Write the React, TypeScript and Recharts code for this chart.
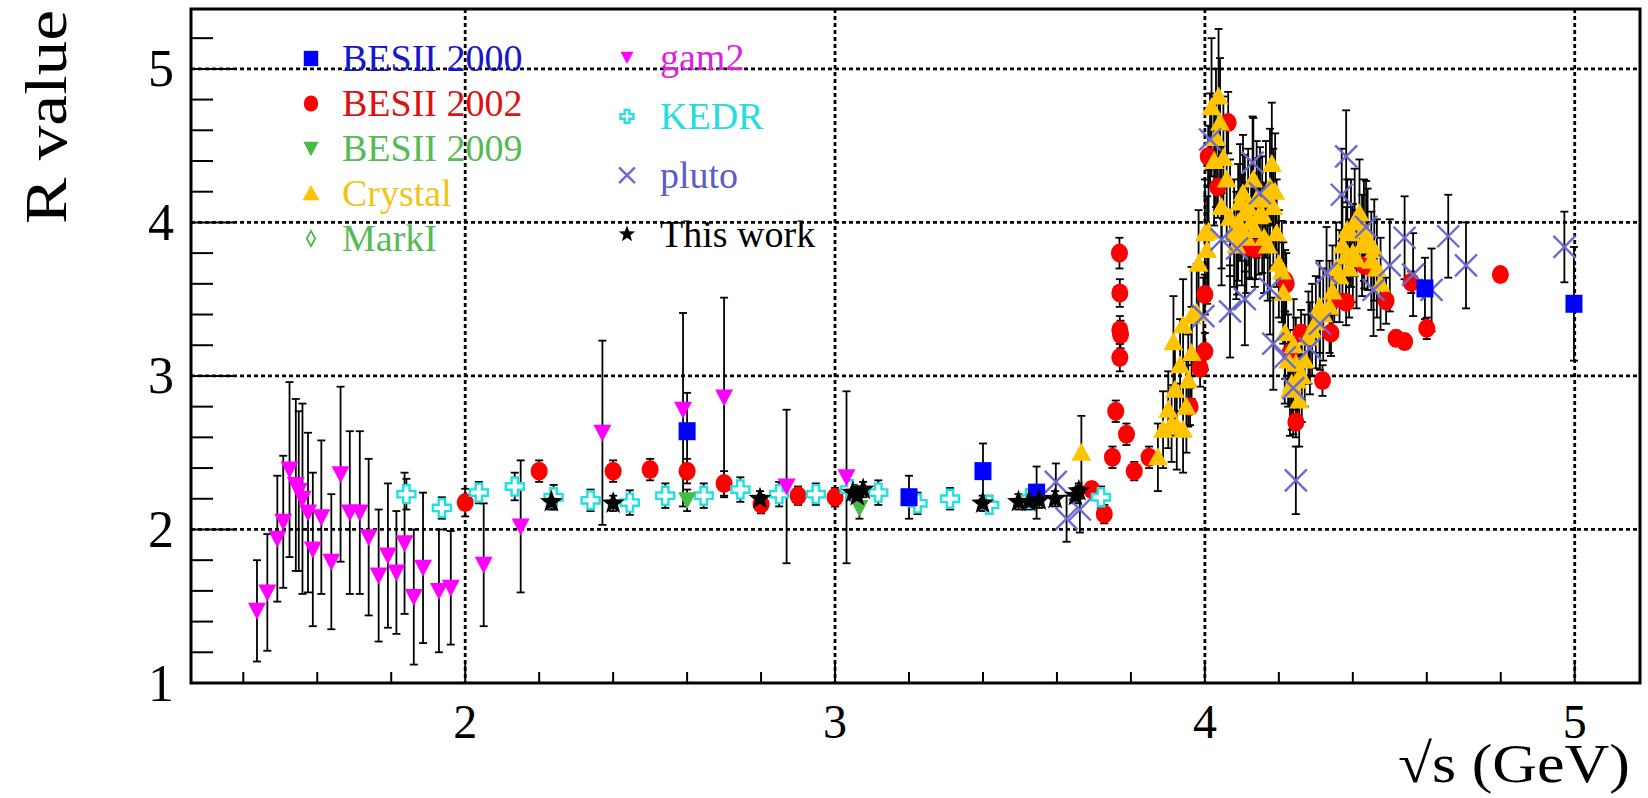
import React from "react";
import { ScatterChart, Scatter, XAxis, YAxis, ErrorBar, CartesianGrid, ReferenceArea } from "recharts";

const X_DOMAIN: [number, number] = [1.2586, 5.1765];
const Y_DOMAIN: [number, number] = [1, 5.39];

const xTicks = [1.4, 1.6, 1.8, 2, 2.2, 2.4, 2.6, 2.8, 3, 3.2, 3.4, 3.6, 3.8, 4, 4.2, 4.4, 4.6, 4.8, 5];
const yTicks = [1, 1.2, 1.4, 1.6, 1.8, 2, 2.2, 2.4, 2.6, 2.8, 3, 3.2, 3.4, 3.6, 3.8, 4, 4.2, 4.4, 4.6, 4.8, 5, 5.2];
const gridValues = [2, 3, 4, 5];

// [sqrt(s), R, error]
const besii2000 = [
  [2.6, 2.64, 0.25], [3.2, 2.21, 0.14], [3.4, 2.38, 0.18], [3.545, 2.24, 0.17],
  [4.595, 3.57, 0.2], [4.998, 3.47, 0.37],
];

const besii2002 = [
  [2.0, 2.175, 0.09], [2.2, 2.38, 0.07], [2.4, 2.38, 0.07], [2.5, 2.39, 0.07],
  [2.6, 2.38, 0.08], [2.7, 2.3, 0.08], [2.8, 2.165, 0.06], [2.9, 2.22, 0.06],
  [3.0, 2.21, 0.06], [3.694, 2.26, 0.05], [3.728, 2.1, 0.06], [3.75, 2.47, 0.07],
  [3.759, 2.77, 0.07], [3.769, 3.8, 0.1], [3.77, 3.54, 0.09], [3.77, 3.3, 0.09],
  [3.772, 3.27, 0.09], [3.77, 3.12, 0.09], [3.788, 2.62, 0.07], [3.809, 2.38, 0.06],
  [3.849, 2.47, 0.07], [3.96, 2.8, 0.12], [3.987, 3.05, 0.12], [4.0, 3.16, 0.12],
  [4.0, 3.53, 0.13], [4.009, 4.43, 0.2], [4.035, 4.23, 0.2], [4.063, 4.65, 0.2],
  [4.12, 3.84, 0.2], [4.138, 3.83, 0.2], [4.217, 3.62, 0.2], [4.22, 3.6, 0.2],
  [4.23, 3.15, 0.15], [4.246, 2.7, 0.1], [4.26, 3.28, 0.15], [4.318, 2.97, 0.1],
  [4.341, 3.28, 0.15], [4.35, 3.5, 0.15], [4.382, 3.48, 0.15], [4.431, 3.72, 0.15],
  [4.45, 3.71, 0.15], [4.49, 3.49, 0.15], [4.517, 3.245, 0.05], [4.54, 3.224, 0.05],
  [4.558, 3.61, 0.07], [4.6, 3.31, 0.07], [4.799, 3.66, 0.04],
];

const besii2009 = [
  [2.6, 2.19, 0.07], [3.066, 2.14, 0.07],
];

const crystal = [
  [3.666, 2.5, 0.24], [3.873, 2.47, 0.22], [3.887, 2.65, 0.25], [3.901, 2.78, 0.25],
  [3.91, 2.69, 0.25], [3.915, 3.22, 0.3], [3.919, 2.91, 0.3], [3.924, 2.67, 0.28],
  [3.933, 3.07, 0.3], [3.941, 2.65, 0.28], [3.941, 3.33, 0.3], [3.95, 2.8, 0.3],
  [3.955, 2.97, 0.3], [3.964, 3.15, 0.3], [3.964, 3.39, 0.32], [3.978, 3.41, 0.32],
  [3.983, 3.73, 0.35], [4.0, 3.93, 0.35], [4.006, 3.82, 0.35], [4.01, 3.94, 0.4],
  [4.018, 4.75, 0.45], [4.025, 4.4, 0.42], [4.03, 4.55, 0.45], [4.037, 4.82, 0.44],
  [4.041, 4.65, 0.42], [4.045, 4.1, 0.4], [4.05, 4.42, 0.4], [4.059, 4.28, 0.4],
  [4.068, 4.03, 0.38], [4.079, 3.93, 0.35], [4.085, 3.85, 0.35], [4.09, 4.0, 0.38],
  [4.095, 4.13, 0.38], [4.1, 3.95, 0.36], [4.103, 4.19, 0.38], [4.108, 4.06, 0.38],
  [4.112, 3.9, 0.36], [4.117, 4.1, 0.38], [4.125, 4.0, 0.37], [4.131, 4.28, 0.4],
  [4.135, 3.95, 0.37], [4.14, 4.15, 0.38], [4.145, 4.04, 0.38], [4.155, 4.05, 0.38],
  [4.16, 3.9, 0.36], [4.165, 4.15, 0.38], [4.17, 3.85, 0.36], [4.176, 4.23, 0.38],
  [4.181, 4.38, 0.4], [4.185, 4.1, 0.38], [4.19, 4.2, 0.38], [4.194, 3.93, 0.35],
  [4.2, 3.73, 0.35], [4.208, 3.68, 0.33], [4.212, 3.54, 0.33], [4.217, 3.28, 0.3],
  [4.225, 3.1, 0.3], [4.23, 2.91, 0.3], [4.235, 2.95, 0.3], [4.24, 3.2, 0.3],
  [4.246, 3.08, 0.3], [4.25, 2.97, 0.3], [4.255, 2.84, 0.3], [4.262, 3.0, 0.3],
  [4.27, 3.1, 0.3], [4.28, 3.25, 0.3], [4.29, 3.3, 0.3], [4.3, 3.35, 0.3],
  [4.31, 3.45, 0.3], [4.32, 3.4, 0.3], [4.337, 3.45, 0.3], [4.345, 3.55, 0.3],
  [4.355, 3.7, 0.3], [4.364, 3.65, 0.3], [4.372, 3.85, 0.32], [4.382, 3.78, 0.32],
  [4.385, 3.95, 0.33], [4.39, 3.7, 0.32], [4.395, 3.93, 0.35], [4.4, 3.8, 0.32],
  [4.405, 4.0, 0.35], [4.41, 3.76, 0.32], [4.418, 4.06, 0.35], [4.425, 3.85, 0.33],
  [4.43, 3.95, 0.33], [4.44, 3.89, 0.33], [4.45, 3.75, 0.32], [4.458, 3.82, 0.33],
  [4.465, 3.7, 0.32], [4.475, 3.6, 0.3],
];

const gam2 = [
  [1.437, 1.47, 0.33], [1.465, 1.59, 0.38], [1.492, 1.94, 0.41], [1.508, 2.05, 0.43],
  [1.525, 2.39, 0.57], [1.542, 2.29, 0.56], [1.55, 2.25, 0.52], [1.56, 2.2, 0.62],
  [1.575, 2.11, 0.52], [1.588, 1.87, 0.5], [1.611, 2.08, 0.5], [1.638, 1.79, 0.44],
  [1.663, 2.36, 0.57], [1.688, 2.11, 0.53], [1.715, 2.11, 0.53], [1.739, 1.95, 0.51],
  [1.766, 1.7, 0.43], [1.791, 1.83, 0.47], [1.814, 1.72, 0.4], [1.836, 1.91, 0.46],
  [1.861, 1.56, 0.44], [1.886, 1.75, 0.49], [1.929, 1.6, 0.4], [1.961, 1.62, 0.37],
  [2.05, 1.77, 0.4], [2.15, 2.02, 0.43], [2.371, 2.63, 0.6], [2.589, 2.78, 0.63],
  [2.7, 2.86, 0.65], [2.869, 2.28, 0.5], [3.031, 2.34, 0.56],
];

const kedr = [
  [1.841, 2.23, 0.1], [1.937, 2.14, 0.07], [2.037, 2.24, 0.07], [2.134, 2.28, 0.09],
  [2.239, 2.21, 0.08], [2.339, 2.19, 0.07], [2.445, 2.175, 0.08], [2.541, 2.22, 0.08],
  [2.645, 2.22, 0.08], [2.744, 2.26, 0.08], [2.849, 2.23, 0.08], [2.948, 2.23, 0.07],
  [3.04, 2.26, 0.06], [3.117, 2.24, 0.08], [3.223, 2.17, 0.07], [3.311, 2.2, 0.07],
  [3.417, 2.16, 0.06], [3.525, 2.2, 0.06], [3.719, 2.21, 0.07],
];

const pluto = [
  [3.597, 2.31, 0.12], [3.626, 2.07, 0.15], [3.662, 2.13, 0.15], [3.996, 3.39, 0.25],
  [4.014, 4.54, 0.3], [4.045, 3.89, 0.3], [4.068, 3.42, 0.3], [4.087, 3.83, 0.3],
  [4.108, 3.5, 0.3], [4.129, 4.39, 0.3], [4.149, 4.19, 0.3], [4.176, 3.57, 0.3],
  [4.185, 3.21, 0.3], [4.216, 3.12, 0.3], [4.239, 2.92, 0.3], [4.246, 2.32, 0.22],
  [4.284, 3.18, 0.3], [4.311, 3.34, 0.3], [4.329, 3.67, 0.3], [4.37, 4.18, 0.3],
  [4.382, 4.43, 0.3], [4.436, 3.97, 0.3], [4.456, 3.56, 0.3], [4.5, 3.72, 0.3],
  [4.54, 3.9, 0.27], [4.563, 3.66, 0.27], [4.613, 3.56, 0.27], [4.658, 3.91, 0.27],
  [4.706, 3.72, 0.28], [4.972, 3.84, 0.23],
];

const thisWork = [
  [2.233, 2.18, 0.05], [2.4, 2.17, 0.05], [2.797, 2.2, 0.05], [3.048, 2.24, 0.05],
  [3.06, 2.22, 0.05], [3.076, 2.26, 0.05], [3.399, 2.17, 0.05], [3.496, 2.18, 0.05],
  [3.524, 2.18, 0.05], [3.552, 2.19, 0.05], [3.595, 2.2, 0.05], [3.65, 2.22, 0.05],
  [3.659, 2.25, 0.05],
];

const leftLegend = ["BESII 2000", "BESII 2002", "BESII 2009", "Crystal", "MarkI"];
const rightLegend = ["gam2", "KEDR", "pluto", "This work"];

const toPoints = (rows: number[][]) => rows.map(([x, y, e]) => ({ x, y, e }));

const SERIF = "'Liberation Serif', 'Times New Roman', serif";

const COLORS: Record<string, { mark: string; text: string }> = {
  "BESII 2000": { mark: "#0000ff", text: "#1616cc" },
  "BESII 2002": { mark: "#ff0000", text: "#dd1111" },
  "BESII 2009": { mark: "#44bb44", text: "#55bb55" },
  Crystal: { mark: "#ffc400", text: "#f2c414" },
  MarkI: { mark: "#44bb44", text: "#55bb55" },
  gam2: { mark: "#ff00ff", text: "#dd22dd" },
  KEDR: { mark: "#22e0e0", text: "#22dede" },
  pluto: { mark: "#6a6ad2", text: "#5c5cc6" },
  "This work": { mark: "#000000", text: "#000000" },
};

// marker drawing, shared by plot and legend
const drawMarker = (name: string, cx: number, cy: number, k = 1) => {
  const c = COLORS[name].mark;
  switch (name) {
    case "BESII 2000":
      return <rect x={cx - 8.5 * k} y={cy - 9 * k} width={17 * k} height={18 * k} fill={c} />;
    case "BESII 2002":
      return <ellipse cx={cx} cy={cy} rx={8.5 * k} ry={9.5 * k} fill={c} />;
    case "BESII 2009":
    case "gam2":
      return (
        <polygon
          points={`${cx - 9 * k},${cy - 8 * k} ${cx + 9 * k},${cy - 8 * k} ${cx},${cy + 9 * k}`}
          fill={c}
        />
      );
    case "Crystal":
      return (
        <polygon
          points={`${cx - 10 * k},${cy + 8 * k} ${cx + 10 * k},${cy + 8 * k} ${cx},${cy - 10 * k}`}
          fill={c}
        />
      );
    case "MarkI":
      return (
        <polygon
          points={`${cx},${cy - 9 * k} ${cx + 5 * k},${cy} ${cx},${cy + 9 * k} ${cx - 5 * k},${cy}`}
          fill="none"
          stroke={c}
          strokeWidth={1.8}
        />
      );
    case "KEDR": {
      const a = 9 * k;
      const b = 3.2 * k;
      const pts = [
        [-b, -a], [b, -a], [b, -b], [a, -b], [a, b], [b, b],
        [b, a], [-b, a], [-b, b], [-a, b], [-a, -b], [-b, -b],
      ]
        .map(([dx, dy]) => `${cx + dx},${cy + dy}`)
        .join(" ");
      return <polygon points={pts} fill="#fff" stroke={c} strokeWidth={2.4} />;
    }
    case "pluto": {
      const a = 11 * k;
      return (
        <g stroke={c} strokeWidth={2.4}>
          <line x1={cx - a} y1={cy - a} x2={cx + a} y2={cy + a} />
          <line x1={cx - a} y1={cy + a} x2={cx + a} y2={cy - a} />
        </g>
      );
    }
    default: {
      const pts: string[] = [];
      for (let i = 0; i < 10; i++) {
        const r = (i % 2 === 0 ? 12 : 5) * k;
        const ang = -Math.PI / 2 + (i * Math.PI) / 5;
        pts.push(`${cx + r * Math.cos(ang)},${cy + r * Math.sin(ang)}`);
      }
      return <polygon points={pts.join(" ")} fill={c} />;
    }
  }
};

const shapeFor = (name: string) => (props: any) => {
  const { cx, cy } = props;
  if (cx == null || cy == null) return <g />;
  return drawMarker(name, cx, cy);
};

const isMajor = (v: number) => Math.abs(v - Math.round(v)) < 1e-6;

const renderXTick = (props: any) => {
  const { x, y, payload } = props;
  const v = payload.value as number;
  const major = isMajor(v);
  return (
    <g>
      <line x1={x} y1={y} x2={x} y2={y - (major ? 21 : 11)} stroke="#000" strokeWidth={2} />
      {major && (
        <text x={x} y={y + 55} textAnchor="middle" fontFamily={SERIF} fontSize={48} fill="#000">
          {Math.round(v)}
        </text>
      )}
    </g>
  );
};

const renderYTick = (props: any) => {
  const { x, y, payload } = props;
  const v = payload.value as number;
  const major = isMajor(v);
  return (
    <g>
      <line x1={x} y1={y} x2={x + (major ? 43 : 22)} y2={y} stroke="#000" strokeWidth={2} />
      {major && (
        <text x={x - 17} y={y + 17.5} textAnchor="end" fontFamily={SERIF} fontSize={52} fill="#000">
          {Math.round(v)}
        </text>
      )}
    </g>
  );
};

const series: [string, number[][]][] = [
  ["BESII 2002", besii2002],
  ["KEDR", kedr],
  ["gam2", gam2],
  ["BESII 2009", besii2009],
  ["Crystal", crystal],
  ["pluto", pluto],
  ["BESII 2000", besii2000],
  ["This work", thisWork],
];

function Overlay() {
  return (
    <svg
      width={1648}
      height={798}
      style={{ position: "absolute", left: 0, top: 0, pointerEvents: "none" }}
    >
      {leftLegend.map((name, i) => {
        const base = 71 + i * 45;
        return (
          <g key={name}>
            {drawMarker(name, 311, base - 12.5, 0.85)}
            <text x={342} y={base} fontFamily={SERIF} fontSize={38} fill={COLORS[name].text}>
              {name}
            </text>
          </g>
        );
      })}
      {rightLegend.map((name, i) => {
        const base = 70 + i * 58.9;
        return (
          <g key={name}>
            {drawMarker(name, 627, base - 12.5, 0.72)}
            <text x={660} y={base} fontFamily={SERIF} fontSize={38} fill={COLORS[name].text}>
              {name}
            </text>
          </g>
        );
      })}
      <text
        transform="translate(66,224) rotate(-90)"
        fontFamily={SERIF}
        fontSize={60}
        textLength={214}
        lengthAdjust="spacingAndGlyphs"
        fill="#000"
      >
        R value
      </text>
      <text
        x={1630}
        y={782}
        textAnchor="end"
        fontFamily={SERIF}
        fontSize={55}
        textLength={232}
        lengthAdjust="spacingAndGlyphs"
        fill="#000"
      >
        √s (GeV)
      </text>
    </svg>
  );
}

export default function App() {
  return (
    <div style={{ position: "absolute", left: 0, top: 0, width: 1648, height: 798, background: "#fff" }}>
      <ScatterChart width={1648} height={798} margin={{ top: 9, right: 8, bottom: 0, left: 0 }}>
        <CartesianGrid
          stroke="#000"
          strokeWidth={2.8}
          strokeDasharray="4 3"
          horizontalValues={gridValues}
          verticalValues={gridValues}
        />
        <XAxis
          type="number"
          dataKey="x"
          domain={X_DOMAIN}
          allowDataOverflow
          ticks={xTicks}
          interval={0}
          height={115}
          tickSize={0}
          tickMargin={0}
          axisLine={false}
          tickLine={false}
          tick={renderXTick}
        />
        <YAxis
          type="number"
          dataKey="y"
          domain={Y_DOMAIN}
          allowDataOverflow
          ticks={yTicks}
          interval={0}
          width={191}
          tickSize={0}
          tickMargin={0}
          axisLine={false}
          tickLine={false}
          tick={renderYTick}
        />
        {series.map(([name, rows]) => (
          <Scatter
            key={name}
            name={name}
            data={toPoints(rows)}
            shape={shapeFor(name)}
            isAnimationActive={false}
          >
            <ErrorBar dataKey="e" direction="y" width={4} stroke="#000" strokeWidth={1.8} isAnimationActive={false} />
          </Scatter>
        ))}
        <ReferenceArea
          x1={X_DOMAIN[0]}
          x2={X_DOMAIN[1]}
          y1={Y_DOMAIN[0]}
          y2={Y_DOMAIN[1]}
          fill="none"
          stroke="#000"
          strokeWidth={3}
          ifOverflow="visible"
        />
      </ScatterChart>
      <Overlay />
    </div>
  );
}
